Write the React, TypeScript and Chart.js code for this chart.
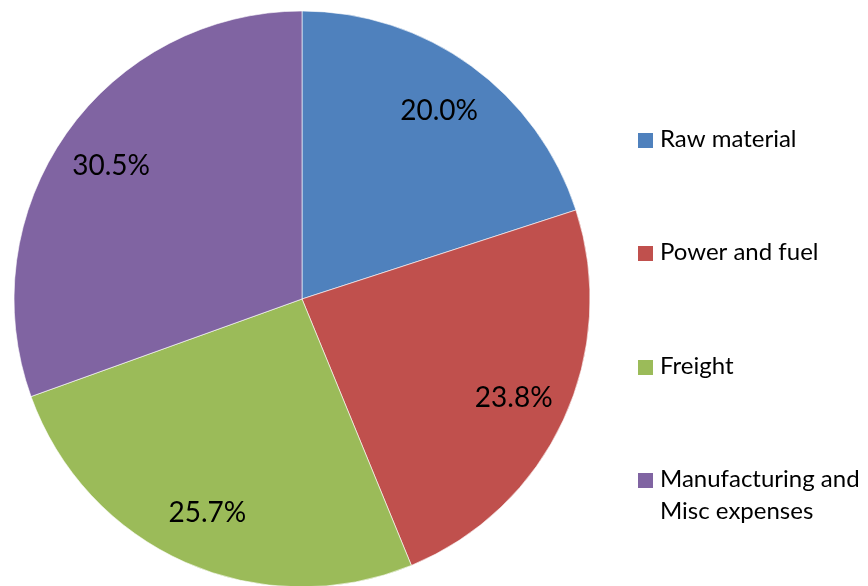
import React, { useEffect, useRef } from "react";
import { Chart, registerables } from "chart.js";

Chart.register(...registerables);

const categories = ["Raw material", "Power and fuel", "Freight", "Manufacturing and Misc expenses"];
const shares = [20.0, 23.8, 25.7, 30.5];
const colors = ["#4F81BD", "#C0504D", "#9BBB59", "#8064A2"];

const FONT = "Lato, 'Open Sans', sans-serif";

const labelPlugin = {
  id: "sliceLabels",
  afterDatasetsDraw(chart: any) {
    const ctx = chart.ctx;
    const meta = chart.getDatasetMeta(0);
    const data = chart.data.datasets[0].data as number[];
    const total = data.reduce((a, b) => a + b, 0);
    ctx.save();
    ctx.font = `28px ${FONT}`;
    ctx.fillStyle = "#000";
    ctx.textAlign = "center";
    ctx.textBaseline = "middle";
    meta.data.forEach((arc: any, i: number) => {
      const p = arc.getProps(["x", "y", "startAngle", "endAngle", "outerRadius"], true);
      const mid = (p.startAngle + p.endAngle) / 2;
      const r = p.outerRadius * 0.81;
      const tx = p.x + Math.cos(mid) * r;
      const ty = p.y + Math.sin(mid) * r;
      ctx.fillText(((data[i] / total) * 100).toFixed(1) + "%", tx, ty + 1);
    });
    ctx.restore();
  },
};

const legendPlugin = {
  id: "sideLegend",
  afterDraw(chart: any) {
    const ctx = chart.ctx;
    const labels = chart.data.labels as string[];
    const bg = chart.data.datasets[0].backgroundColor as string[];
    ctx.save();
    ctx.font = `24px ${FONT}`;
    ctx.textBaseline = "alphabetic";
    ctx.textAlign = "left";
    const textX = 660;
    const maxW = 868 - textX - 2;
    labels.forEach((lab, i) => {
      const base = Math.round(147 + i * 113.3);
      ctx.fillStyle = bg[i];
      ctx.fillRect(638, base - 14, 15, 15);
      ctx.fillStyle = "#000";
      const words = lab.split(" ");
      const lines: string[] = [];
      let cur = "";
      words.forEach((w) => {
        const t = cur ? cur + " " + w : w;
        if (ctx.measureText(t).width > maxW && cur) {
          lines.push(cur);
          cur = w;
        } else cur = t;
      });
      if (cur) lines.push(cur);
      lines.forEach((ln, j) => ctx.fillText(ln, textX, base + j * 32));
    });
    ctx.restore();
  },
};

export default function App() {
  const ref = useRef<HTMLCanvasElement | null>(null);
  useEffect(() => {
    document.body.style.margin = "0";
    const chart = new Chart(ref.current as HTMLCanvasElement, {
      type: "pie",
      data: {
        labels: categories,
        datasets: [
          {
            data: shares,
            backgroundColor: colors,
            borderColor: "rgba(255,255,255,0.6)",
            borderWidth: 1,
            radius: 288,
          } as any,
        ],
      },
      options: {
        responsive: false,
        animation: false,
        devicePixelRatio: 1,
        layout: { padding: { left: 14, right: 278, top: 12, bottom: 0 } },
        plugins: { legend: { display: false }, tooltip: { enabled: false } },
      },
      plugins: [labelPlugin, legendPlugin],
    });
    return () => chart.destroy();
  }, []);
  return (
    <div style={{ position: "absolute", left: 0, top: 0, width: 868, height: 586 }}>
      <canvas ref={ref} width={868} height={586} style={{ display: "block" }} />
    </div>
  );
}
